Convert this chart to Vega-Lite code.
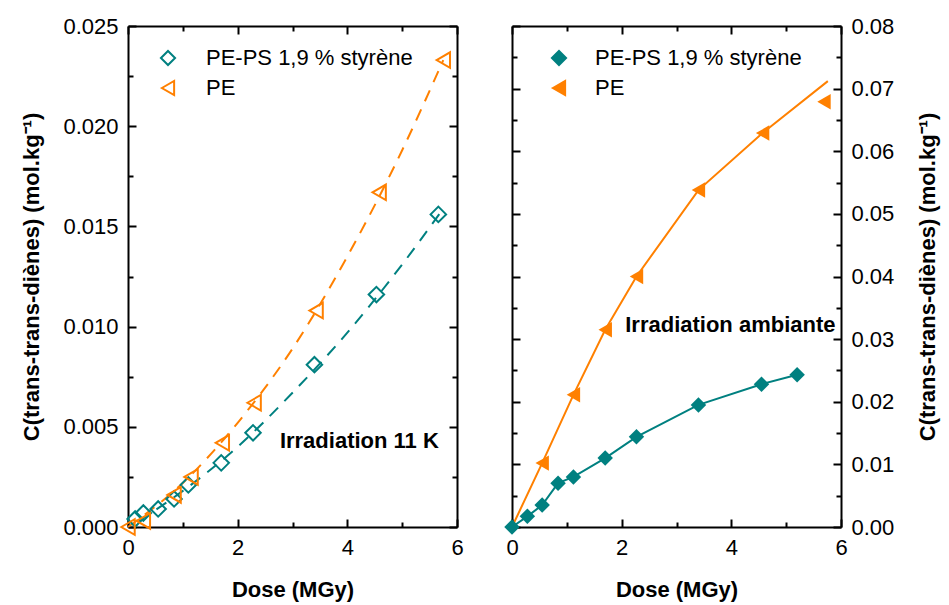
{
  "$schema": "https://vega.github.io/schema/vega-lite/v6.json",
  "padding": {"left": 20, "top": 15, "right": 4, "bottom": 4},
  "spacing": 40,
  "background": "white",
  "config": {
    "font": "Liberation Sans",
    "view": {"stroke": null},
    "axis": {
      "labelFont": "Liberation Sans", "labelFontSize": 22, "labelColor": "black",
      "titleFont": "Liberation Sans", "titleFontSize": 22, "titleFontWeight": "bold", "titleColor": "black",
      "domainColor": "black", "domainWidth": 2, "tickColor": "black", "tickWidth": 2, "ticks": true, "tickOpacity": 1,
      "grid": false, "labelFlush": false, "labelOverlap": false
    },
    "legend": {"labelFont": "Liberation Sans", "labelFontSize": 22, "labelColor": "black", "padding": 0, "rowPadding": 6, "symbolStrokeWidth": 2, "symbolSize": 200, "labelLimit": 400}
  },
  "datasets": {
    "leftPts": [
      {"dose": 0.13, "c": 0.0004, "serie": "PE-PS 1,9 % styrène"},
      {"dose": 0.28, "c": 0.0007, "serie": "PE-PS 1,9 % styrène"},
      {"dose": 0.55, "c": 0.0009, "serie": "PE-PS 1,9 % styrène"},
      {"dose": 0.84, "c": 0.0014, "serie": "PE-PS 1,9 % styrène"},
      {"dose": 1.1, "c": 0.0021, "serie": "PE-PS 1,9 % styrène"},
      {"dose": 1.7, "c": 0.0032, "serie": "PE-PS 1,9 % styrène"},
      {"dose": 2.28, "c": 0.0047, "serie": "PE-PS 1,9 % styrène"},
      {"dose": 3.4, "c": 0.0081, "serie": "PE-PS 1,9 % styrène"},
      {"dose": 4.53, "c": 0.0116, "serie": "PE-PS 1,9 % styrène"},
      {"dose": 5.66, "c": 0.0156, "serie": "PE-PS 1,9 % styrène"},
      {"dose": 0.0, "c": 0.0, "serie": "PE"},
      {"dose": 0.28, "c": 0.0003, "serie": "PE"},
      {"dose": 0.84, "c": 0.0016, "serie": "PE"},
      {"dose": 1.15, "c": 0.0025, "serie": "PE"},
      {"dose": 1.72, "c": 0.0042, "serie": "PE"},
      {"dose": 2.3, "c": 0.0062, "serie": "PE"},
      {"dose": 3.43, "c": 0.0108, "serie": "PE"},
      {"dose": 4.58, "c": 0.0167, "serie": "PE"},
      {"dose": 5.75, "c": 0.0233, "serie": "PE"}
    ],
    "leftFit": [
      {"dose": 0.2, "c": 0.0003, "serie": "PE-PS 1,9 % styrène"},
      {"dose": 1.0, "c": 0.0018, "serie": "PE-PS 1,9 % styrène"},
      {"dose": 2.0, "c": 0.0040, "serie": "PE-PS 1,9 % styrène"},
      {"dose": 3.0, "c": 0.0067, "serie": "PE-PS 1,9 % styrène"},
      {"dose": 4.0, "c": 0.0097, "serie": "PE-PS 1,9 % styrène"},
      {"dose": 5.0, "c": 0.0131, "serie": "PE-PS 1,9 % styrène"},
      {"dose": 5.7, "c": 0.0157, "serie": "PE-PS 1,9 % styrène"},
      {"dose": 0.0, "c": 0.0, "serie": "PE"},
      {"dose": 1.0, "c": 0.0022, "serie": "PE"},
      {"dose": 2.0, "c": 0.0052, "serie": "PE"},
      {"dose": 3.0, "c": 0.0089, "serie": "PE"},
      {"dose": 4.0, "c": 0.0135, "serie": "PE"},
      {"dose": 5.0, "c": 0.0188, "serie": "PE"},
      {"dose": 5.75, "c": 0.0233, "serie": "PE"}
    ],
    "rightPts": [
      {"dose": 0.0, "c": 0.0, "serie": "PE-PS 1,9 % styrène"},
      {"dose": 0.28, "c": 0.0017, "serie": "PE-PS 1,9 % styrène"},
      {"dose": 0.55, "c": 0.0035, "serie": "PE-PS 1,9 % styrène"},
      {"dose": 0.84, "c": 0.0070, "serie": "PE-PS 1,9 % styrène"},
      {"dose": 1.12, "c": 0.0080, "serie": "PE-PS 1,9 % styrène"},
      {"dose": 1.7, "c": 0.0110, "serie": "PE-PS 1,9 % styrène"},
      {"dose": 2.27, "c": 0.0144, "serie": "PE-PS 1,9 % styrène"},
      {"dose": 3.4, "c": 0.0195, "serie": "PE-PS 1,9 % styrène"},
      {"dose": 4.55, "c": 0.0228, "serie": "PE-PS 1,9 % styrène"},
      {"dose": 5.2, "c": 0.0243, "serie": "PE-PS 1,9 % styrène"},
      {"dose": 0.55, "c": 0.0102, "serie": "PE"},
      {"dose": 1.12, "c": 0.0211, "serie": "PE"},
      {"dose": 1.7, "c": 0.0315, "serie": "PE"},
      {"dose": 2.27, "c": 0.0400, "serie": "PE"},
      {"dose": 3.4, "c": 0.0538, "serie": "PE"},
      {"dose": 4.57, "c": 0.0629, "serie": "PE"},
      {"dose": 5.69, "c": 0.0679, "serie": "PE"}
    ],
    "rightLine": [
      {"dose": 0.0, "c": 0.0, "serie": "PE-PS 1,9 % styrène"},
      {"dose": 0.28, "c": 0.0017, "serie": "PE-PS 1,9 % styrène"},
      {"dose": 0.55, "c": 0.0035, "serie": "PE-PS 1,9 % styrène"},
      {"dose": 0.84, "c": 0.0070, "serie": "PE-PS 1,9 % styrène"},
      {"dose": 1.12, "c": 0.0080, "serie": "PE-PS 1,9 % styrène"},
      {"dose": 1.7, "c": 0.0110, "serie": "PE-PS 1,9 % styrène"},
      {"dose": 2.27, "c": 0.0144, "serie": "PE-PS 1,9 % styrène"},
      {"dose": 3.4, "c": 0.0195, "serie": "PE-PS 1,9 % styrène"},
      {"dose": 4.55, "c": 0.0228, "serie": "PE-PS 1,9 % styrène"},
      {"dose": 5.2, "c": 0.0243, "serie": "PE-PS 1,9 % styrène"},
      {"dose": 0.0, "c": 0.0, "serie": "PE"},
      {"dose": 0.55, "c": 0.0102, "serie": "PE"},
      {"dose": 1.12, "c": 0.0211, "serie": "PE"},
      {"dose": 1.7, "c": 0.0315, "serie": "PE"},
      {"dose": 2.27, "c": 0.0400, "serie": "PE"},
      {"dose": 3.4, "c": 0.0538, "serie": "PE"},
      {"dose": 4.57, "c": 0.0629, "serie": "PE"},
      {"dose": 5.76, "c": 0.0712, "serie": "PE"}
    ]
  },
  "resolve": {
    "scale": {"x": "independent", "y": "independent", "color": "independent", "shape": "independent"},
    "legend": {"color": "independent", "shape": "independent"}
  },
  "hconcat": [
    {
      "width": 329,
      "height": 501,
      "resolve": {"axis": {"x": "independent", "y": "independent"}},
      "layer": [
        {
          "data": {"name": "leftFit"},
          "mark": {"type": "line", "strokeWidth": 2, "strokeDash": [12, 9], "interpolate": "monotone"},
          "encoding": {
            "x": {"field": "dose", "type": "quantitative", "scale": {"domain": [0, 6], "nice": false},
              "axis": {"orient": "bottom", "values": [0, 1, 2, 3, 4, 5, 6], "format": "d", "title": "Dose (MGy)",
                "labelExpr": "datum.value % 2 === 0 ? datum.label : ''",
                "labelPadding": 18, "titlePadding": 18,
                "tickSize": {"condition": {"test": "datum.value % 2 === 0", "value": -8}, "value": -5}}},
            "y": {"field": "c", "type": "quantitative", "scale": {"domain": [0, 0.025], "nice": false},
              "axis": {"orient": "left", "values": [0, 0.0025, 0.005, 0.0075, 0.01, 0.0125, 0.015, 0.0175, 0.02, 0.0225, 0.025], "format": ".3f",
                "title": "C(trans-trans-diènes) (mol.kg⁻¹)",
                "labelExpr": "abs(datum.value/0.005 - round(datum.value/0.005)) < 0.001 ? datum.label : ''",
                "labelPadding": 18, "titlePadding": 19,
                "tickSize": {"condition": {"test": "abs(datum.value/0.005 - round(datum.value/0.005)) < 0.001", "value": -8}, "value": -5}}},
            "color": {"field": "serie", "type": "nominal", "scale": {"domain": ["PE-PS 1,9 % styrène", "PE"], "range": ["#008080", "#FF8000"]},
              "legend": {"title": null, "orient": "none", "legendX": 29, "legendY": 21, "labelOffset": 27}},
            "detail": {"field": "serie"}
          }
        },
        {
          "data": {"name": "leftPts"},
          "mark": {"type": "point", "filled": false, "strokeWidth": 2, "size": 240, "opacity": 1},
          "encoding": {
            "x": {"field": "dose", "type": "quantitative", "scale": {"domain": [0, 6], "nice": false},
              "axis": {"orient": "top", "values": [0, 1, 2, 3, 4, 5, 6], "labels": false, "title": null,
                "tickSize": {"condition": {"test": "datum.value % 2 === 0", "value": -8}, "value": -5}}},
            "y": {"field": "c", "type": "quantitative", "scale": {"domain": [0, 0.025], "nice": false},
              "axis": {"orient": "right", "values": [0, 0.0025, 0.005, 0.0075, 0.01, 0.0125, 0.015, 0.0175, 0.02, 0.0225, 0.025], "labels": false, "title": null,
                "tickSize": {"condition": {"test": "abs(datum.value/0.005 - round(datum.value/0.005)) < 0.001", "value": -8}, "value": -5}}},
            "color": {"field": "serie", "type": "nominal", "scale": {"domain": ["PE-PS 1,9 % styrène", "PE"], "range": ["#008080", "#FF8000"]},
              "legend": {"title": null, "orient": "none", "legendX": 29, "legendY": 21, "labelOffset": 27}},
            "shape": {"field": "serie", "type": "nominal", "scale": {"domain": ["PE-PS 1,9 % styrène", "PE"], "range": ["diamond", "triangle-left"]},
              "legend": {"title": null, "orient": "none", "legendX": 29, "legendY": 21, "labelOffset": 27}}
          }
        },
        {
          "data": {"values": [{}]},
          "mark": {"type": "text", "text": "Irradiation 11 K", "font": "Liberation Sans", "fontSize": 22, "fontWeight": "bold", "align": "left", "baseline": "middle", "color": "black"},
          "encoding": {
            "x": {"datum": 2.77, "type": "quantitative", "axis": null},
            "y": {"datum": 0.0043, "type": "quantitative", "axis": null}
          }
        }
      ]
    },
    {
      "width": 329,
      "height": 501,
      "resolve": {"axis": {"x": "independent", "y": "independent"}},
      "layer": [
        {
          "data": {"name": "rightLine"},
          "mark": {"type": "line", "strokeWidth": 2},
          "encoding": {
            "x": {"field": "dose", "type": "quantitative", "scale": {"domain": [0, 6], "nice": false},
              "axis": {"orient": "bottom", "values": [0, 1, 2, 3, 4, 5, 6], "format": "d", "title": "Dose (MGy)",
                "labelExpr": "datum.value % 2 === 0 ? datum.label : ''",
                "labelPadding": 18, "titlePadding": 18,
                "tickSize": {"condition": {"test": "datum.value % 2 === 0", "value": -8}, "value": -5}}},
            "y": {"field": "c", "type": "quantitative", "scale": {"domain": [0, 0.08], "nice": false},
              "axis": {"orient": "right", "values": [0, 0.005, 0.01, 0.015, 0.02, 0.025, 0.03, 0.035, 0.04, 0.045, 0.05, 0.055, 0.06, 0.065, 0.07, 0.075, 0.08], "format": ".2f",
                "title": "C(trans-trans-diènes) (mol.kg⁻¹)", "titleAngle": 270,
                "labelExpr": "abs(datum.value/0.01 - round(datum.value/0.01)) < 0.001 ? datum.label : ''",
                "labelPadding": 18, "titlePadding": 46,
                "tickSize": {"condition": {"test": "abs(datum.value/0.01 - round(datum.value/0.01)) < 0.001", "value": -8}, "value": -5}}},
            "color": {"field": "serie", "type": "nominal", "scale": {"domain": ["PE-PS 1,9 % styrène", "PE"], "range": ["#008080", "#FF8000"]},
              "legend": {"title": null, "orient": "none", "legendX": 36, "legendY": 21, "labelOffset": 25}},
            "detail": {"field": "serie"}
          }
        },
        {
          "data": {"name": "rightPts"},
          "mark": {"type": "point", "filled": true, "size": 240, "opacity": 1},
          "encoding": {
            "x": {"field": "dose", "type": "quantitative", "scale": {"domain": [0, 6], "nice": false},
              "axis": {"orient": "top", "values": [0, 1, 2, 3, 4, 5, 6], "labels": false, "title": null,
                "tickSize": {"condition": {"test": "datum.value % 2 === 0", "value": -8}, "value": -5}}},
            "y": {"field": "c", "type": "quantitative", "scale": {"domain": [0, 0.08], "nice": false},
              "axis": {"orient": "left", "values": [0, 0.005, 0.01, 0.015, 0.02, 0.025, 0.03, 0.035, 0.04, 0.045, 0.05, 0.055, 0.06, 0.065, 0.07, 0.075, 0.08], "labels": false, "title": null,
                "tickSize": {"condition": {"test": "abs(datum.value/0.01 - round(datum.value/0.01)) < 0.001", "value": -8}, "value": -5}}},
            "color": {"field": "serie", "type": "nominal", "scale": {"domain": ["PE-PS 1,9 % styrène", "PE"], "range": ["#008080", "#FF8000"]},
              "legend": {"title": null, "orient": "none", "legendX": 36, "legendY": 21, "labelOffset": 25}},
            "shape": {"field": "serie", "type": "nominal", "scale": {"domain": ["PE-PS 1,9 % styrène", "PE"], "range": ["diamond", "triangle-left"]},
              "legend": {"title": null, "orient": "none", "legendX": 36, "legendY": 21, "labelOffset": 25}}
          }
        },
        {
          "data": {"values": [{}]},
          "mark": {"type": "text", "text": "Irradiation ambiante", "font": "Liberation Sans", "fontSize": 22, "fontWeight": "bold", "align": "right", "baseline": "middle", "color": "black"},
          "encoding": {
            "x": {"datum": 5.9, "type": "quantitative", "axis": null},
            "y": {"datum": 0.0323, "type": "quantitative", "axis": null}
          }
        }
      ]
    }
  ]
}
